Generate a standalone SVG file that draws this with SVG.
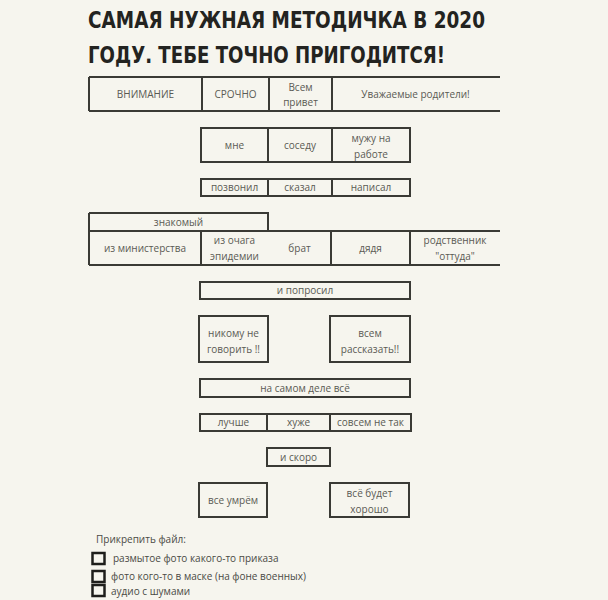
<svg xmlns="http://www.w3.org/2000/svg" width="608" height="600" viewBox="0 0 608 600">
<defs>
<style>
.bg{fill:#f6f5ee}
.ln{fill:none;stroke:#3a3a35;stroke-width:2}
.bx{fill:none;stroke:#3a3a35;stroke-width:2}
.t{font-family:"Open Sans","DejaVu Sans",sans-serif;font-size:10px;fill:#5a5a54;text-anchor:middle}
.ttl{font-family:"DejaVu Sans Condensed","DejaVu Sans",sans-serif;font-weight:bold;font-size:23px;fill:#232320;text-transform:uppercase}
.cl{font-family:"Open Sans","DejaVu Sans",sans-serif;font-size:10px;fill:#4a4a45}
.cb{fill:none;stroke:#1e1e1b;stroke-width:2.5}
</style>
</defs>
<rect class="bg" x="0" y="0" width="608" height="600"/>

<g id="title">
<text class="ttl" x="88" y="27.5" textLength="397" lengthAdjust="spacingAndGlyphs">Самая нужная методичка в 2020</text>
<text class="ttl" x="88" y="63" textLength="357" lengthAdjust="spacingAndGlyphs">году. Тебе точно пригодится!</text>
</g>

<g id="connectors">
<path class="ln" d="M89,77 H500 M89,111 H500 M89,77 V111 M202,77 V111 M269,77 V111 M332,77 V111"/>
<path class="ln" d="M201,128 H410 V162 H201 Z M268,128 V162 M332,128 V162"/>
<path class="ln" d="M201,179 H410 V196 H201 Z M268,179 V196 M332,179 V196"/>
<path class="ln" d="M89,213 H268 V231 M89,213 V265 M89,231 H500 M89,265 H500 M201,231 V265 M331,231 V265 M410,231 V265"/>
<path class="ln" d="M200,414 H411 V431 H200 Z M267,414 V431 M330,414 V431"/>
</g>

<g id="n-vnimanie"><text class="t" x="145.5" y="97.5">ВНИМАНИЕ</text></g>
<g id="n-srochno"><text class="t" x="235.5" y="97.5">СРОЧНО</text></g>
<g id="n-vsem-privet"><text class="t" x="300.5" y="90.5">Всем</text><text class="t" x="300.5" y="106">привет</text></g>
<g id="n-uvazhaemye"><text class="t" x="415.5" y="97.5">Уважаемые родители!</text></g>

<g id="n-mne"><text class="t" x="234.5" y="148.5">мне</text></g>
<g id="n-sosedu"><text class="t" x="300" y="148.5">соседу</text></g>
<g id="n-muzhu"><text class="t" x="371" y="141.5">мужу на</text><text class="t" x="371" y="157.5">работе</text></g>

<g id="n-pozvonil"><text class="t" x="234.5" y="191">позвонил</text></g>
<g id="n-skazal"><text class="t" x="300" y="191">сказал</text></g>
<g id="n-napisal"><text class="t" x="371" y="191">написал</text></g>

<g id="n-znakomy"><text class="t" x="178.5" y="225.5">знакомый</text></g>
<g id="n-ministerstvo"><text class="t" x="145" y="251.5">из министерства</text></g>
<g id="n-ochag"><text class="t" x="234.5" y="243.5">из очага</text><text class="t" x="234.5" y="260">эпидемии</text></g>
<g id="n-brat"><text class="t" x="299.5" y="251.5">брат</text></g>
<g id="n-dyadya"><text class="t" x="370.5" y="251.5">дядя</text></g>
<g id="n-rodstvennik"><text class="t" x="455" y="243.5">родственник</text><text class="t" x="455" y="260">"оттуда"</text></g>

<g id="n-poprosil"><rect class="bx" x="200" y="282" width="210" height="17"/><text class="t" x="305" y="294">и попросил</text></g>

<g id="n-nikomu"><rect class="bx" x="199" y="316" width="69" height="46"/><text class="t" x="233.5" y="336.5">никому не</text><text class="t" x="233.5" y="353">говорить !!</text></g>
<g id="n-vsem-rasskazat"><rect class="bx" x="330" y="316" width="80" height="46"/><text class="t" x="370" y="336.5">всем</text><text class="t" x="370" y="353">рассказать!!</text></g>

<g id="n-na-samom-dele"><rect class="bx" x="200" y="379" width="210" height="18"/><text class="t" x="305" y="391.5">на самом деле всё</text></g>

<g id="n-luchshe"><text class="t" x="233.5" y="426">лучше</text></g>
<g id="n-huzhe"><text class="t" x="298.5" y="426">хуже</text></g>
<g id="n-sovsem"><text class="t" x="370.5" y="426">совсем не так</text></g>

<g id="n-skoro"><rect class="bx" x="267" y="448" width="63" height="18"/><text class="t" x="298.5" y="460.5">и скоро</text></g>

<g id="n-umrem"><rect class="bx" x="199" y="483" width="68" height="34"/><text class="t" x="233" y="503.5">все умрём</text></g>
<g id="n-horosho"><rect class="bx" x="330" y="483" width="79" height="34"/><text class="t" x="369.5" y="496.5">всё будет</text><text class="t" x="369.5" y="513">хорошо</text></g>

<g id="attach">
<text class="cl" x="96" y="543">Прикрепить файл:</text>
<rect class="cb" x="92.5" y="553" width="12" height="11"/>
<text class="cl" x="113" y="562">размытое фото какого-то приказа</text>
<rect class="cb" x="92.5" y="571" width="12" height="11"/>
<text class="cl" x="111" y="579.5">фото кого-то в маске (на фоне военных)</text>
<rect class="cb" x="92.5" y="585" width="12" height="11"/>
<text class="cl" x="111" y="595">аудио с шумами</text>
</g>
</svg>
